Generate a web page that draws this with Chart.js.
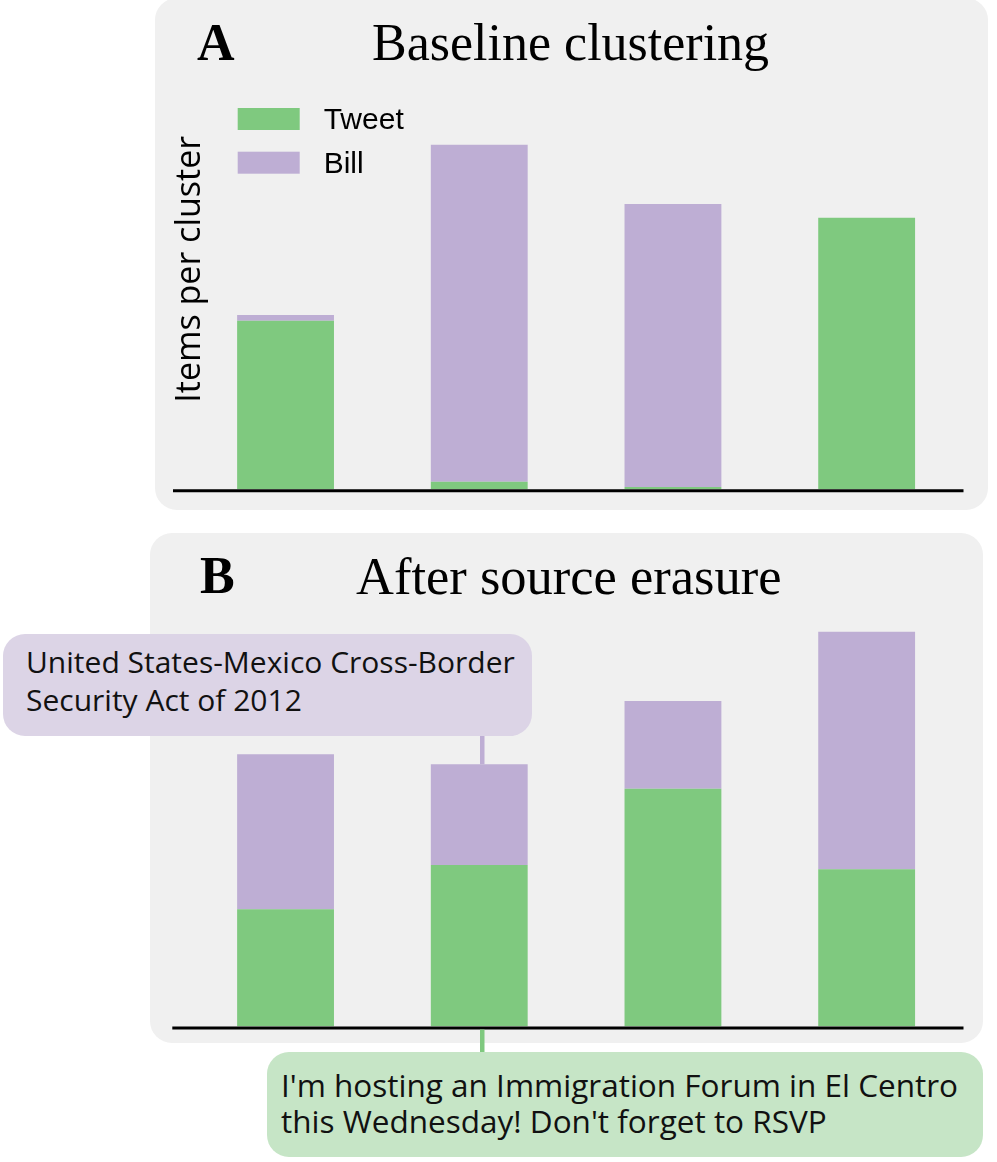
<!DOCTYPE html>
<html>
<head>
<meta charset="utf-8">
<script src="https://cdn.jsdelivr.net/npm/chart.js@4.4.1/dist/chart.umd.min.js"></script>
<style>
  body { margin: 0; background: #fff; width: 997px; height: 1162px; position: relative; overflow: hidden; }
  .panel { position: absolute; background: #f0f0f0; border-radius: 22px; }
  #panelA { left: 155px; top: -2px; width: 833px; height: 512px; }
  #panelB { left: 150px; top: 533px; width: 833px; height: 510px; }
  canvas { position: absolute; left: 0; z-index: 1; }
  .head { position: absolute; font-family: "Liberation Serif", serif; font-size: 52px; line-height: 52px; color: #000; white-space: nowrap; z-index: 2; }
  .letter { font-weight: bold; }
  .note { position: absolute; font-family: "Open Sans", sans-serif; color: #111; border-radius: 22px; box-sizing: border-box; white-space: nowrap; z-index: 2; }
  #billNote { left: 3px; top: 634px; width: 529px; height: 102px; padding: 9px 0 0 23px; font-size: 30px; line-height: 38px; background: #dcd4e6; }
  #tweetNote { left: 267px; top: 1052px; width: 716px; height: 105px; padding: 15px 0 0 14px; font-size: 31.5px; line-height: 36px; background: #c6e5c6; }
</style>
</head>
<body>
<div class="panel" id="panelA"></div>
<div class="panel" id="panelB"></div>

<div class="head letter" style="left:197px; top:17px;">A</div>
<div class="head" style="left:372px; top:17px;">Baseline clustering</div>
<div class="head letter" style="left:200px; top:550px;">B</div>
<div class="head" style="left:356px; top:550px; font-size:52.5px;">After source erasure</div>

<canvas id="chartA" width="997" height="530" style="top:0px;"></canvas>
<canvas id="chartB" width="997" height="629" style="top:533px;"></canvas>

<div class="note" id="billNote">United States-Mexico Cross-Border<br>Security Act of 2012</div>
<div class="note" id="tweetNote">I'm hosting an Immigration Forum in El Centro<br>this Wednesday! Don't forget to RSVP</div>

<script>
// items per cluster
const clusters = ["Cluster 1", "Cluster 2", "Cluster 3", "Cluster 4"];
const tweetA = [84.3, 3.8, 1.2, 135.8];
const billA = [2.9, 168.5, 141.5, 0];
const tweetB = [58.6, 80.8, 118.9, 78.6];
const billB = [77.5, 50.3, 43.9, 118.8];
const yMax = 220;

const green = "#7fc97f";
const purple = "#beaed4";

// thick black baseline under the bars
const baseline = {
  id: "baseline",
  afterDatasetsDraw(chart, args, opts) {
    const { ctx, chartArea, scales } = chart;
    const y = scales.y.getPixelForValue(0) + 1.5;
    ctx.save();
    ctx.strokeStyle = "#000";
    ctx.lineWidth = 3;
    ctx.beginPath();
    ctx.moveTo(opts.from, y);
    ctx.lineTo(chartArea.right, y);
    ctx.stroke();
    ctx.restore();
  }
};

// legend sitting inside the plot
const insideLegend = {
  id: "insideLegend",
  afterDraw(chart, args, opts) {
    if (!opts.show) return;
    const ctx = chart.ctx;
    ctx.save();
    ctx.font = opts.font;
    ctx.textBaseline = "alphabetic";
    chart.data.datasets.forEach((ds, i) => {
      const y = opts.y + i * opts.step;
      ctx.fillStyle = ds.backgroundColor;
      ctx.fillRect(opts.x, y, opts.boxWidth, opts.boxHeight);
      ctx.fillStyle = "#000";
      ctx.fillText(ds.label, opts.x + opts.boxWidth + opts.gap, y + opts.boxHeight - 1);
    });
    ctx.restore();
  }
};

// lines from the example notes to cluster 2
const connectors = {
  id: "connectors",
  afterDatasetsDraw(chart, args, opts) {
    if (!opts.links) return;
    const { ctx, scales } = chart;
    const top = chart.canvas.getBoundingClientRect().top;
    opts.links.forEach(l => {
      const note = document.getElementById(l.note).getBoundingClientRect();
      const x = scales.x.getPixelForValue(l.index) + 3;
      let y0, y1;
      if (l.to === "top") {
        y0 = note.bottom - top;
        y1 = scales.y.getPixelForValue(tweetB[l.index] + billB[l.index]);
      } else {
        y0 = scales.y.getPixelForValue(0) + 3;
        y1 = note.top - top;
      }
      ctx.save();
      ctx.strokeStyle = l.color;
      ctx.lineWidth = 4.5;
      ctx.beginPath();
      ctx.moveTo(x, y0);
      ctx.lineTo(x, y1);
      ctx.stroke();
      ctx.restore();
    });
  }
};

function makeChart(id, tweets, bills, extra) {
  return new Chart(document.getElementById(id), {
    type: "bar",
    data: {
      labels: clusters,
      datasets: [
        { label: "Tweet", data: tweets, backgroundColor: green },
        { label: "Bill", data: bills, backgroundColor: purple }
      ]
    },
    options: {
      responsive: false,
      animation: false,
      layout: { padding: extra.padding },
      datasets: { bar: { categoryPercentage: 1, barPercentage: 0.5 } },
      plugins: {
        legend: { display: false },
        tooltip: { enabled: false },
        baseline: { from: extra.lineFrom },
        insideLegend: extra.legend,
        connectors: extra.connectors
      },
      scales: {
        x: { display: false, stacked: true },
        y: {
          display: extra.yTitle,
          stacked: true,
          min: 0,
          max: yMax,
          afterFit(s) { s.width = extra.yTitle ? 15.7 : 0; },
          ticks: { display: false },
          grid: { display: false },
          border: { display: false },
          title: {
            display: true,
            text: "Items per cluster",
            color: "#000",
            padding: 0,
            font: { family: "Open Sans", size: 34, lineHeight: 1 }
          }
        }
      }
    },
    plugins: [baseline, insideLegend, connectors]
  });
}

makeChart("chartA", tweetA, billA, {
  padding: { left: 173, right: 33.5, top: 49.3, bottom: 40.7 },
  yTitle: true,
  lineFrom: 173,
  legend: { show: true, x: 237.7, y: 108, step: 43.7, boxWidth: 62, boxHeight: 22, gap: 24, font: "30px 'Liberation Sans', Arial, sans-serif" },
  connectors: {}
});

makeChart("chartB", tweetB, billB, {
  padding: { left: 188.7, right: 33.5, top: 53.5, bottom: 135.5 },
  yTitle: false,
  lineFrom: 172.3,
  legend: { show: false },
  connectors: {
    links: [
      { note: "billNote", index: 1, to: "top", color: purple },
      { note: "tweetNote", index: 1, to: "note", color: green }
    ]
  }
});
</script>
</body>
</html>
